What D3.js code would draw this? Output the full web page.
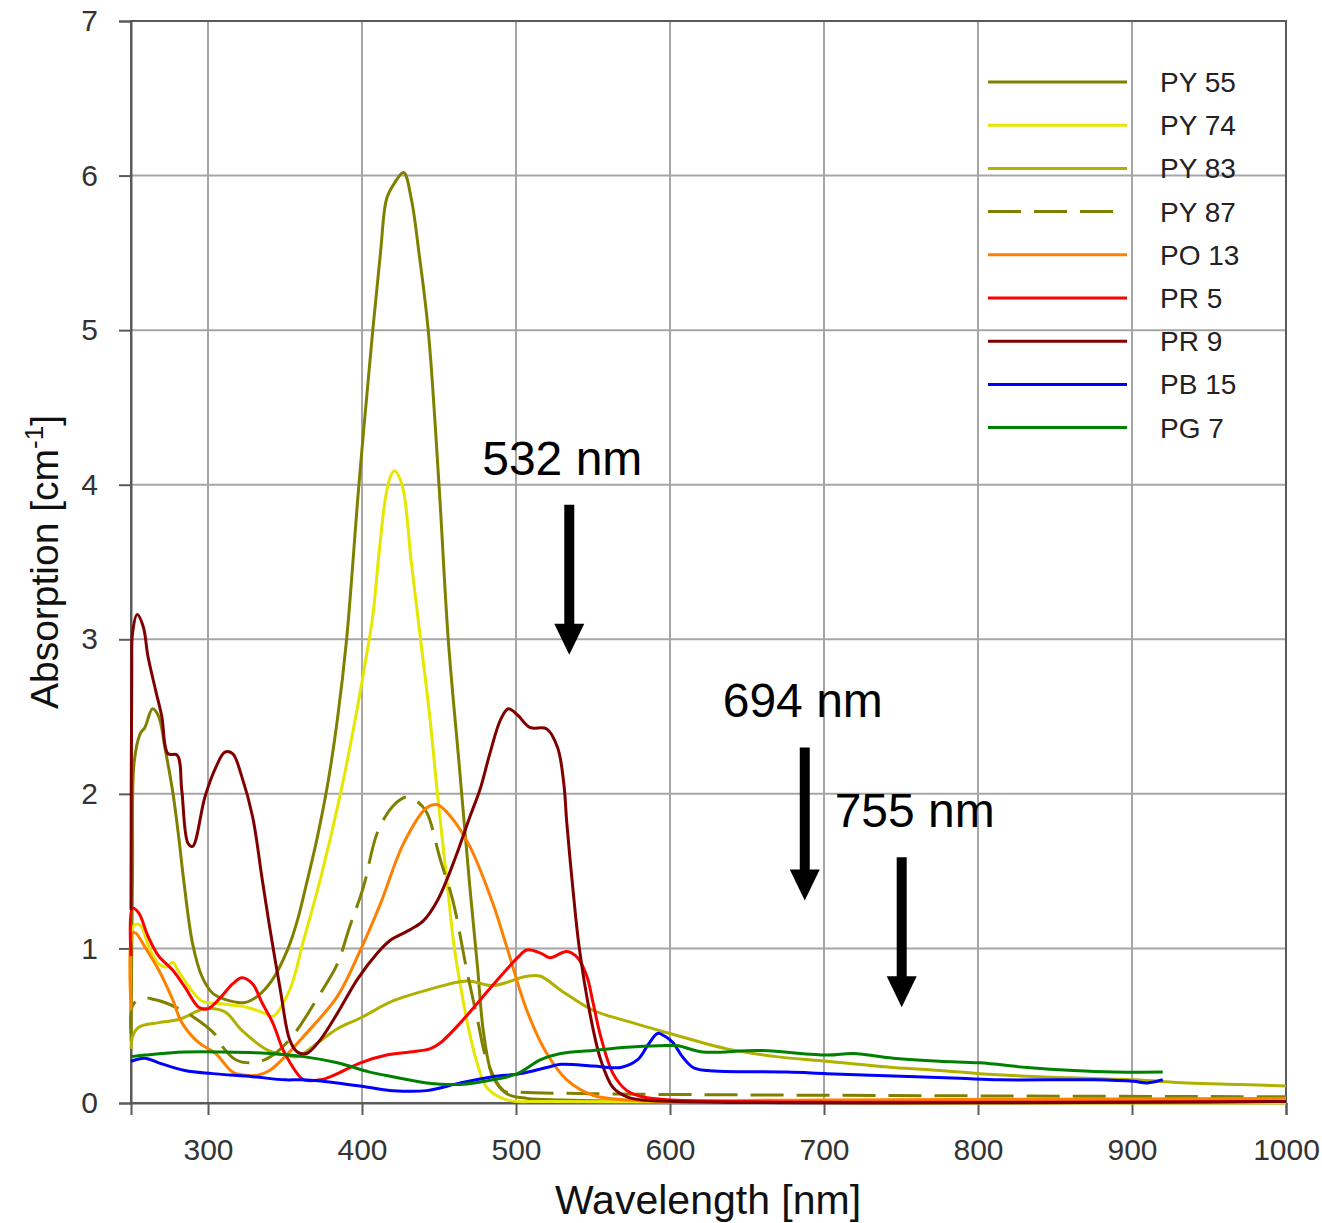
<!DOCTYPE html>
<html>
<head>
<meta charset="utf-8">
<script src="https://cdn.jsdelivr.net/npm/d3@7"></script>
<style>
   body { margin: 0; background: #fff; }
   svg text { font-family: "Liberation Sans", Arial, sans-serif; }
</style>
</head>
<body>
<div id="chart"></div>
<script>
// absorption spectra, [wavelength nm, absorption cm-1]
var py55 = [[250,0.4],[251,1.5],[252,2.2],[256,2.39],[259,2.43],[264,2.55],[268,2.5],[272,2.3],[277,2.02],[281,1.72],[284,1.46],[290,1.03],[296,0.82],[303,0.71],[311,0.67],[324,0.65],[332,0.69],[342,0.8],[352,1.0],[358,1.18],[364,1.42],[371,1.72],[378,2.08],[384,2.48],[390,3.0],[398,4.0],[407,5.0],[412,5.5],[416,5.85],[421,5.95],[427,6.02],[432,5.85],[437,5.5],[443,5.0],[450,4.0],[456,3.0],[463,2.2],[470,1.4],[475,0.88],[479,0.45],[485,0.17],[494,0.06],[507,0.03],[530,0.02],[600,0.01],[1000,0.01]]
var py74 = [[250,0.6],[252,1.15],[256,1.15],[262,1.0],[268,0.9],[273,0.88],[277,0.91],[281,0.85],[290,0.72],[296,0.66],[310,0.64],[325,0.62],[337,0.58],[342,0.56],[353,0.73],[362,1.05],[373,1.45],[386,2.0],[395,2.45],[403,2.9],[407,3.15],[411,3.55],[415,3.9],[418,4.04],[421,4.09],[426,4.0],[432,3.5],[438,3.0],[444,2.5],[449,2.0],[455,1.45],[460,1.0],[465,0.7],[469,0.49],[475,0.25],[481,0.1],[494,0.02],[520,0.01],[1000,0.0]]
var py83 = [[250,0.35],[251,0.43],[255,0.49],[268,0.52],[281,0.54],[298,0.61],[311,0.59],[322,0.47],[339,0.34],[350,0.31],[358,0.3],[370,0.38],[384,0.48],[399,0.55],[420,0.66],[442,0.73],[468,0.79],[485,0.76],[507,0.82],[516,0.82],[529,0.73],[550,0.6],[572,0.53],[600,0.45],[637,0.35],[669,0.3],[702,0.27],[745,0.23],[775,0.21],[801,0.19],[840,0.17],[901,0.15],[936,0.13],[970,0.12],[1000,0.11]]
var py87 = [[250,0.45],[251,0.63],[257,0.68],[265,0.67],[272,0.65],[281,0.61],[290,0.56],[305,0.44],[309,0.37],[318,0.28],[329,0.26],[339,0.29],[353,0.41],[373,0.71],[384,0.9],[392,1.14],[401,1.4],[410,1.75],[420,1.92],[429,1.98],[436,1.95],[442,1.88],[451,1.57],[459,1.31],[468,0.86],[475,0.54],[481,0.28],[492,0.08],[503,0.07],[550,0.06],[700,0.05],[1000,0.04]]
var po13 = [[250,0.6],[251,1.1],[253,1.1],[259,1.01],[268,0.86],[277,0.67],[283,0.52],[294,0.39],[305,0.32],[316,0.2],[324,0.18],[332,0.18],[340,0.21],[350,0.3],[362,0.43],[384,0.69],[399,0.99],[412,1.29],[427,1.68],[442,1.91],[449,1.93],[457,1.86],[470,1.66],[485,1.29],[494,1.01],[507,0.6],[520,0.32],[533,0.15],[550,0.05],[572,0.02],[700,0.02],[1000,0.03]]
var pr5 = [[250,0.95],[251,1.26],[255,1.23],[261,1.08],[268,0.95],[277,0.86],[285,0.75],[294,0.62],[300,0.61],[307,0.67],[316,0.77],[322,0.81],[329,0.77],[335,0.65],[342,0.52],[348,0.36],[351,0.3],[358,0.19],[362,0.15],[373,0.15],[384,0.19],[399,0.26],[416,0.31],[431,0.33],[444,0.35],[451,0.39],[464,0.52],[477,0.67],[490,0.82],[501,0.94],[507,0.99],[516,0.97],[522,0.94],[533,0.98],[540,0.94],[546,0.82],[550,0.65],[555,0.43],[563,0.19],[572,0.08],[582,0.04],[600,0.02],[1000,0.01]]
var pr9 = [[250,1.25],[250.5,2.8],[251,3.04],[254,3.16],[258,3.08],[261,2.89],[266,2.67],[270,2.5],[274,2.26],[280,2.25],[283,2.02],[287,1.68],[290,1.66],[298,1.98],[305,2.17],[311,2.27],[316,2.26],[322,2.11],[329,1.85],[335,1.46],[340,1.14],[347,0.73],[353,0.41],[358,0.33],[364,0.32],[373,0.41],[384,0.58],[397,0.8],[410,0.97],[418,1.05],[431,1.12],[440,1.18],[449,1.31],[460,1.57],[470,1.85],[477,2.04],[483,2.26],[490,2.48],[495,2.55],[501,2.51],[509,2.43],[520,2.42],[527,2.3],[531,2.07],[533,1.81],[537,1.38],[541,1.01],[548,0.58],[555,0.28],[563,0.1],[572,0.04],[582,0.02],[1000,0.01]]
var pb15 = [[250,0.27],[259,0.29],[268,0.26],[285,0.21],[303,0.19],[329,0.17],[350,0.15],[362,0.15],[384,0.13],[405,0.1],[420,0.08],[442,0.08],[464,0.13],[485,0.17],[503,0.19],[520,0.23],[529,0.25],[550,0.24],[568,0.23],[579,0.28],[586,0.38],[592,0.45],[597,0.43],[602,0.39],[608,0.3],[615,0.23],[624,0.21],[676,0.2],[702,0.19],[745,0.175],[788,0.16],[814,0.15],[875,0.15],[901,0.14],[910,0.13],[920,0.15]]
var pg7 = [[250,0.3],[259,0.31],[285,0.33],[311,0.33],[340,0.32],[362,0.3],[384,0.26],[405,0.2],[420,0.17],[442,0.13],[464,0.12],[485,0.15],[501,0.19],[516,0.28],[529,0.32],[550,0.34],[572,0.36],[593,0.37],[605,0.37],[621,0.33],[658,0.34],[702,0.31],[719,0.32],[745,0.29],[775,0.27],[801,0.26],[832,0.23],[862,0.21],[888,0.2],[920,0.2]]

var seriesNames = ["PY 55", "PY 74", "PY 83", "PY 87", "PO 13", "PR 5", "PR 9", "PB 15", "PG 7"]
var seriesData = [py55, py74, py83, py87, po13, pr5, pr9, pb15, pg7]
var seriesColors = ["#808000", "#e6e600", "#b0b000", "#808000", "#ff8000", "#ff0000", "#800000", "#0000ff", "#008000"]
var seriesDashed = [false, false, false, true, false, false, false, false, false]

var xTicks = [300, 400, 500, 600, 700, 800, 900, 1000]
var yTicks = [0, 1, 2, 3, 4, 5, 6, 7]

// laser lines: wavelength, arrow top / tip (absorption units)
var laserNames = ["532 nm", "694 nm", "755 nm"]
var laserNm = [532, 694, 755]
var laserTop = [3.87, 2.3, 1.59]
var laserTip = [2.9, 1.31, 0.62]

var width = 1322
var height = 1223
var margin = { left: 131, right: 36, top: 21, bottom: 120 }

var svg = d3.select("#chart").append("svg")
   .attr("width", width)
   .attr("height", height)

var scaleX = d3.scaleLinear().domain([250, 1000]).range([margin.left, width - margin.right])
var scaleY = d3.scaleLinear().domain([0, 7]).range([height - margin.bottom, margin.top])

var x0 = scaleX.range()[0], x1 = scaleX.range()[1]
var y0 = scaleY.range()[0], y1 = scaleY.range()[1]

// grid
svg.append("g").selectAll("line.vgrid").data(xTicks).enter().append("line")
   .attr("class", "vgrid")
   .attr("x1", function(d) { return scaleX(d) })
   .attr("x2", function(d) { return scaleX(d) })
   .attr("y1", y0)
   .attr("y2", y1)
   .attr("stroke", "#a6a6a6")
   .attr("stroke-width", 2)

svg.append("g").selectAll("line.hgrid").data(yTicks).enter().append("line")
   .attr("class", "hgrid")
   .attr("x1", x0)
   .attr("x2", x1)
   .attr("y1", function(d) { return scaleY(d) })
   .attr("y2", function(d) { return scaleY(d) })
   .attr("stroke", "#a6a6a6")
   .attr("stroke-width", 2)

// frame: top and right in dark grey too
svg.append("rect")
   .attr("x", x0)
   .attr("y", y1)
   .attr("width", x1 - x0)
   .attr("height", y0 - y1)
   .attr("fill", "none")
   .attr("stroke", "#5a5a5a")
   .attr("stroke-width", 2)

// axes
var xAxis = d3.axisBottom(scaleX).tickValues(xTicks).tickFormat(d3.format("d")).tickSize(12).tickPadding(24)
var yAxis = d3.axisLeft(scaleY).tickValues(yTicks).tickFormat(d3.format("d")).tickSize(12).tickPadding(21)

var gx = svg.append("g").attr("transform", "translate(0," + y0 + ")").call(xAxis)
var gy = svg.append("g").attr("transform", "translate(" + x0 + ",0)").call(yAxis)

;[gx, gy].forEach(function(g) {
   g.select(".domain").attr("stroke", "#5a5a5a").attr("stroke-width", 2)
   g.selectAll(".tick line").attr("stroke", "#5a5a5a").attr("stroke-width", 2)
   g.selectAll(".tick text")
      .attr("fill", "#333")
      .attr("font-size", 30)
      .attr("font-family", "'Liberation Sans', Arial, sans-serif")
})

// axis titles
svg.append("text")
   .attr("x", 708)
   .attr("y", 1214)
   .attr("text-anchor", "middle")
   .attr("font-size", 41)
   .attr("fill", "#111")
   .text("Wavelength [nm]")

var ylab = svg.append("text")
   .attr("transform", "translate(58,562) rotate(-90)")
   .attr("text-anchor", "middle")
   .attr("font-size", 39)
   .attr("fill", "#111")
ylab.append("tspan").text("Absorption [cm")
ylab.append("tspan").attr("baseline-shift", "super").attr("font-size", 26).text("-1")
ylab.append("tspan").text("]")

// spectra
var line = d3.line()
   .x(function(d) { return scaleX(d[0]) })
   .y(function(d) { return scaleY(d[1]) })
   .curve(d3.curveCatmullRom.alpha(0.5))

svg.append("g").selectAll("path.spectrum").data(seriesData).enter().append("path")
   .attr("class", "spectrum")
   .attr("d", line)
   .attr("fill", "none")
   .attr("stroke", function(d, i) { return seriesColors[i] })
   .attr("stroke-width", 3)
   .attr("stroke-dasharray", function(d, i) { return seriesDashed[i] ? "33,13" : null })
   .attr("stroke-linejoin", "round")

// legend (no box, grid shows through)
var legend = svg.append("g").selectAll("g.legend").data(seriesNames).enter().append("g")
   .attr("class", "legend")
   .attr("transform", function(d, i) { return "translate(0," + (82 + i * 43.2) + ")" })

legend.append("line")
   .attr("x1", 988)
   .attr("x2", function(d, i) { return seriesDashed[i] ? 1114 : 1127 })
   .attr("stroke", function(d, i) { return seriesColors[i] })
   .attr("stroke-width", 3)
   .attr("stroke-dasharray", function(d, i) { return seriesDashed[i] ? "33,13" : null })

legend.append("text")
   .attr("x", 1160)
   .attr("dy", "0.36em")
   .attr("font-size", 28)
   .attr("fill", "#222")
   .text(function(d) { return d })

// laser wavelength arrows
var laserDx = [4, -10, -7]
var arrows = svg.append("g").selectAll("g.laser").data(laserNm).enter().append("g")
   .attr("class", "laser")

arrows.append("line")
   .attr("x1", function(d, i) { return scaleX(d) + laserDx[i] })
   .attr("x2", function(d, i) { return scaleX(d) + laserDx[i] })
   .attr("y1", function(d, i) { return scaleY(laserTop[i]) })
   .attr("y2", function(d, i) { return scaleY(laserTip[i]) - 28 })
   .attr("stroke", "#000")
   .attr("stroke-width", 10)

arrows.append("path")
   .attr("d", function(d, i) {
      let x = scaleX(d) + laserDx[i]
      let y = scaleY(laserTip[i])
      return "M" + (x - 15) + "," + (y - 31) + "L" + (x + 15) + "," + (y - 31) + "L" + x + "," + y + "Z"
   })
   .attr("fill", "#000")

arrows.append("text")
   .attr("x", function(d, i) { return scaleX(d) + laserDx[i] + [-7, -2, 13][i] })
   .attr("y", function(d, i) { return scaleY(laserTop[i]) - 30 })
   .attr("text-anchor", "middle")
   .attr("font-size", 48)
   .attr("fill", "#000")
   .text(function(d, i) { return laserNames[i] })
</script>
</body>
</html>
